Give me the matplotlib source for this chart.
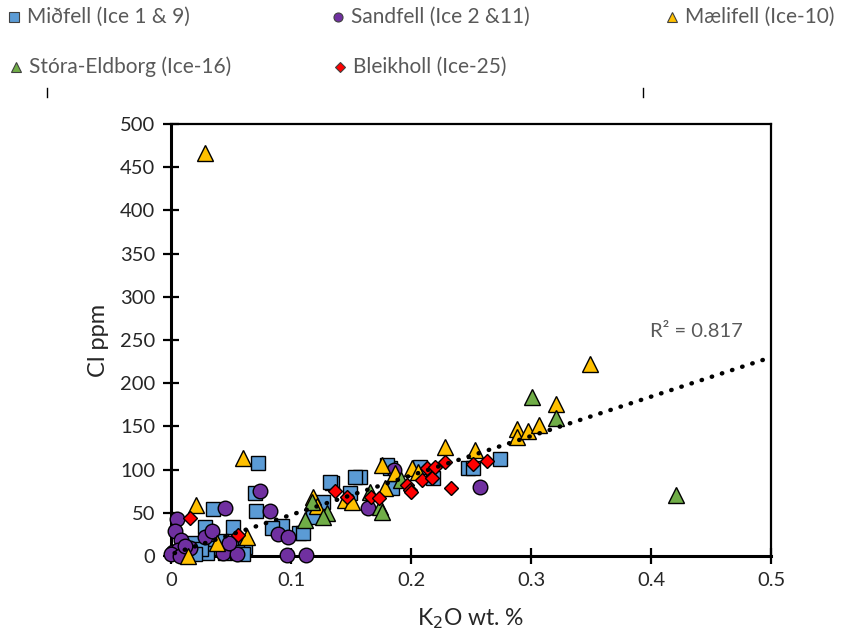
import matplotlib
matplotlib.use("Agg")
import matplotlib.pyplot as plt
from matplotlib.lines import Line2D
import numpy as np

plt.rcParams['font.family'] = ['Lato', 'DejaVu Sans']

# K2O (wt. %) and Cl (ppm) for each locality
midfell_k2o = [0.0725, 0.070, 0.071, 0.035, 0.028, 0.052, 0.0925, 0.084, 0.107, 0.134,
               0.1575, 0.149, 0.127, 0.118, 0.110, 0.1825, 0.184, 0.2075, 0.218, 0.2475,
               0.252, 0.274, 0.018, 0.037, 0.059, 0.030, 0.062, 0.010, 0.025, 0.045,
               0.050, 0.055, 0.042, 0.020, 0.060, 0.180, 0.153, 0.1325]
midfell_cl = [108, 73, 52, 54, 34, 34, 35, 32, 27, 84,
              92, 73, 62, 45, 27, 102, 79, 103, 90, 102,
              102, 112, 15, 9, 9, 4, 10, 5, 8, 4,
              12, 5, 17, 2, 2, 105, 92, 86]

sandfell_k2o = [0.005, 0.003, 0.008, 0.028, 0.034, 0.002, 0.006, 0.016, 0.000, 0.0075,
                0.043, 0.055, 0.045, 0.074, 0.0825, 0.097, 0.1125, 0.089, 0.0975, 0.048,
                0.164, 0.186, 0.2575, 0.012]
sandfell_cl = [43, 29, 18, 22, 29, 5, 7, 9, 2, 0,
               3, 2, 55, 75, 52, 1, 1, 25, 22, 15,
               55, 99, 80, 12]

maelifell_k2o = [0.028, 0.021, 0.060, 0.038, 0.014, 0.063, 0.118, 0.122, 0.145, 0.151,
                 0.176, 0.187, 0.178, 0.201, 0.206, 0.228, 0.253, 0.288, 0.288, 0.2975,
                 0.307, 0.349, 0.321]
maelifell_cl = [466, 59, 113, 15, 0, 22, 68, 58, 65, 62,
                105, 96, 79, 102, 97, 126, 123, 147, 138, 145,
                152, 222, 176]

eldborg_k2o = [0.421, 0.301, 0.321, 0.166, 0.174, 0.176, 0.1175, 0.130, 0.127, 0.112, 0.192]
eldborg_cl = [71, 184, 160, 74, 57, 51, 62, 50, 45, 42, 88]

bleikholl_k2o = [0.016, 0.056, 0.137, 0.147, 0.167, 0.173, 0.197, 0.199, 0.200, 0.209,
                 0.213, 0.2175, 0.220, 0.228, 0.233, 0.252, 0.263]
bleikholl_cl = [44, 24, 75, 68, 68, 67, 82, 76, 74, 88,
                102, 90, 103, 109, 79, 106, 110]

# Linear trend (all samples)
trend_x = [0.003, 0.5]
trend_slope = 456.0
trend_intercept = 2.0
r_squared = 0.817

series = [
    ("Miðfell (Ice 1 & 9)", midfell_k2o, midfell_cl, 's', '#5B9BD5', 10.5),
    ("Sandfell (Ice 2 &11)", sandfell_k2o, sandfell_cl, 'o', '#7030A0', 10.5),
    ("Mælifell (Ice-10)", maelifell_k2o, maelifell_cl, '^', '#FFC000', 11),
    ("Stóra-Eldborg (Ice-16)", eldborg_k2o, eldborg_cl, '^', '#70AD47', 11),
    ("Bleikholl (Ice-25)", bleikholl_k2o, bleikholl_cl, 'D', '#FF0000', 7.2),
]

fig = plt.figure(figsize=(8.5, 6.4), dpi=100)
ax = fig.add_axes([171 / 850, 1 - 556 / 640, 600 / 850, 432 / 640])

for i, (name, xs, ys, mk, col, ms) in enumerate(series):
    ax.plot(xs, ys, linestyle='none', marker=mk, markersize=ms,
            markerfacecolor=col, markeredgecolor='black', markeredgewidth=1.0,
            zorder=3 + i, clip_on=False)

tx = np.array(trend_x)
ax.plot(tx, trend_intercept + trend_slope * tx, color='black', linewidth=3.2,
        linestyle=(0, (0.1, 2.3)), dash_capstyle='round', zorder=10)
ax.text(0.438, 260, f"R² = {r_squared}", fontsize=14.5, color='#595959',
        ha='center', va='center')

ax.set_xlim(0, 0.5)
ax.set_ylim(0, 500)
ax.set_xticks([0, 0.1, 0.2, 0.3, 0.4, 0.5])
ax.set_xticklabels(['0', '0.1', '0.2', '0.3', '0.4', '0.5'])
ax.set_yticks(range(0, 501, 50))
ax.tick_params(direction='inout', length=11, width=1.6, labelsize=14.5,
               labelcolor='#262626', pad=6)
for s in ax.spines.values():
    s.set_linewidth(1.6)
ax.spines['left'].set_linewidth(2.2)
ax.spines['bottom'].set_linewidth(2.2)

ax.set_ylabel("Cl ppm", fontsize=17, color='#262626', labelpad=8)
ax.set_xlabel("K$_2$O wt. %", fontsize=16.5, color='#262626', labelpad=12)

# Legend drawn across the top of the figure
legend_items = [
    (0, 14, 17, 's', '#5B9BD5', 6.5),
    (1, 338, 17, 'o', '#7030A0', 6.5),
    (2, 672, 17, '^', '#FFC000', 7),
    (3, 16, 67, '^', '#70AD47', 7),
    (4, 340, 67, 'D', '#FF0000', 5),
]
for idx, px, py, mk, col, ms in legend_items:
    fx, fy = px / 850, 1 - py / 640
    fig.add_artist(Line2D([fx], [fy], marker=mk, markersize=ms, markerfacecolor=col,
                          markeredgecolor='#404040', markeredgewidth=0.8,
                          linestyle='none', transform=fig.transFigure))
    fig.text(fx + 13 / 850, fy, series[idx][0], fontsize=15, color='#595959',
             ha='left', va='center')

for px in (47, 643):
    fig.add_artist(Line2D([px / 850, px / 850], [1 - 88 / 640, 1 - 97 / 640],
                          color='black', linewidth=1, transform=fig.transFigure))

fig.savefig("out.png", dpi=100)
